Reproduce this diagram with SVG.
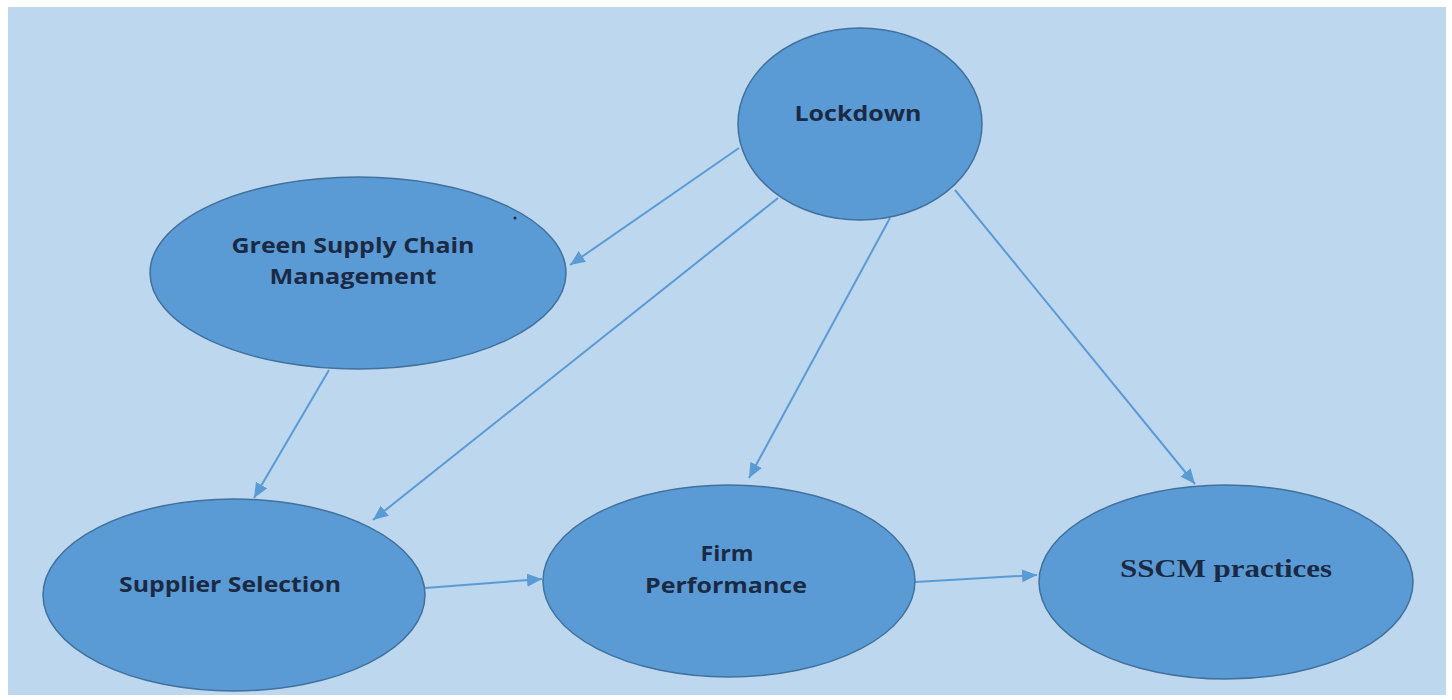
<svg xmlns="http://www.w3.org/2000/svg" width="1452" height="700" viewBox="0 0 1452 700">
  <defs>
    <marker id="arrow" markerUnits="userSpaceOnUse" markerWidth="16" markerHeight="14" refX="15" refY="6.5" orient="auto">
      <path d="M0,0 L15,6.5 L0,13 z" fill="#5B9BD5"/>
    </marker>
    <style>
      .node { fill: #5B9BD5; stroke: #41719C; stroke-width: 1.5; }
      .lbl { font-family: "Open Sans", "Liberation Sans", sans-serif; font-weight: 700; font-size: 21px; fill: #1B2A44; text-anchor: middle; }
      .serif { font-family: "Liberation Serif", "DejaVu Serif", serif; font-weight: 700; font-size: 26px; fill: #1B2A44; text-anchor: middle; }
      .edge { stroke: #5B9BD5; stroke-width: 2; fill: none; marker-end: url(#arrow); }
    </style>
  </defs>
  <rect x="0" y="0" width="1452" height="700" fill="#FFFFFF"/>
  <rect x="8" y="7" width="1438" height="688" fill="#BDD7EE"/>

  <g id="connectors">
    <line class="edge" x1="739" y1="148" x2="570" y2="265"/>
    <line class="edge" x1="778" y1="198" x2="373" y2="520"/>
    <line class="edge" x1="890" y1="218" x2="749" y2="478"/>
    <line class="edge" x1="955" y1="190" x2="1195" y2="484"/>
    <line class="edge" x1="329" y1="370" x2="254" y2="498"/>
    <line class="edge" x1="425" y1="588" x2="542" y2="579"/>
    <line class="edge" x1="915" y1="582" x2="1037" y2="575"/>
  </g>

  <g id="node-lockdown">
    <ellipse class="node" cx="860" cy="124" rx="122" ry="96"/>
    <text class="lbl" x="858" y="121" textLength="127" lengthAdjust="spacingAndGlyphs">Lockdown</text>
  </g>

  <g id="node-gscm">
    <ellipse class="node" cx="358" cy="273" rx="208" ry="96"/>
    <text class="lbl" x="353" y="253" textLength="243" lengthAdjust="spacingAndGlyphs">Green Supply Chain</text>
    <text class="lbl" x="353" y="284" textLength="167" lengthAdjust="spacingAndGlyphs">Management</text>
  </g>

  <g id="node-supplier">
    <ellipse class="node" cx="234" cy="595" rx="191" ry="96"/>
    <text class="lbl" x="230" y="592" textLength="222" lengthAdjust="spacingAndGlyphs">Supplier Selection</text>
  </g>

  <g id="node-firm">
    <ellipse class="node" cx="729" cy="581" rx="186" ry="96"/>
    <text class="lbl" x="727" y="561" textLength="53" lengthAdjust="spacingAndGlyphs">Firm</text>
    <text class="lbl" x="726" y="593" textLength="162" lengthAdjust="spacingAndGlyphs">Performance</text>
  </g>

  <g id="node-sscm">
    <ellipse class="node" cx="1226" cy="582" rx="187" ry="97"/>
    <text class="serif" x="1226" y="577" textLength="212" lengthAdjust="spacingAndGlyphs">SSCM practices</text>
  </g>

  <circle cx="515" cy="218" r="1.5" fill="#1B2A44"/>
</svg>
